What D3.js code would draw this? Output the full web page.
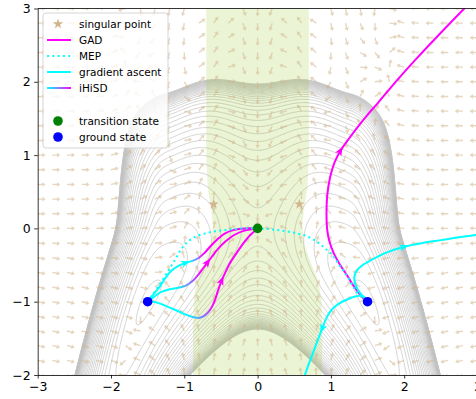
<!DOCTYPE html>
<html>
<head>
<meta charset="utf-8">
<script src="https://cdn.jsdelivr.net/npm/d3@7/dist/d3.min.js"></script>
<style>
  body { margin: 0; background: #fff; }
  svg { display: block; font-family: 'DejaVu Sans', sans-serif; }
</style>
</head>
<body>
<div id="chart"></div>
<script>
const xTicks = [-3, -2, -1, 0, 1, 2, 3];
const yTicks = [-2, -1, 0, 1, 2, 3];

const groundStates = [[-1.5, -1], [1.5, -1]];
const transitionState = [[0, 0]];
const singularPoints = [[-0.6, 0.33], [0.57, 0.33]];

// left edge of the index-1 band, top to bottom (the band is mirrored in x)
const bandEdge = [[-0.70, 3.2], [-0.70, 1.0], [-0.68, 0.55], [-0.64, 0.3], [-0.61, 0.05],
  [-0.63, -0.2], [-0.72, -0.45], [-0.82, -0.7], [-0.87, -0.95], [-0.88, -1.3], [-0.88, -2.2]];

const mepPath = [[-1.5, -1], [-1.38, -0.83], [-1.27, -0.66], [-1.19, -0.53], [-1.12, -0.42],
  [-1.06, -0.31], [-0.97, -0.2], [-0.86, -0.12], [-0.72, -0.07], [-0.58, -0.04], [-0.42, -0.02],
  [-0.2, 0], [0, 0], [0.16, -0.01], [0.32, -0.03], [0.5, -0.06], [0.68, -0.11], [0.82, -0.19],
  [0.93, -0.28], [1.04, -0.39], [1.12, -0.51], [1.2, -0.62], [1.28, -0.75], [1.36, -0.88], [1.5, -1]];

const gadPath = [[1.5, -1], [1.42, -0.93], [1.32, -0.8], [1.22, -0.64], [1.12, -0.49], [1.04, -0.34],
  [0.98, -0.18], [0.95, -0.02], [0.94, 0.2], [0.95, 0.45], [0.99, 0.7], [1.05, 0.9], [1.13, 1.06],
  [1.25, 1.23], [1.37, 1.39], [1.5, 1.55], [1.64, 1.71], [1.91, 2.03], [2.18, 2.33], [2.5, 2.67],
  [2.82, 3.0], [2.9, 3.08]];
const gadArrows = [12];

const ascentPaths = [
  [[1.5, -1], [1.43, -0.92], [1.37, -0.84], [1.33, -0.75], [1.32, -0.66], [1.35, -0.58], [1.42, -0.51],
    [1.52, -0.45], [1.73, -0.34], [2.0, -0.25], [2.25, -0.2], [2.5, -0.16], [2.75, -0.12], [3.05, -0.08]],
  [[1.5, -1], [1.43, -0.92], [1.33, -0.93], [1.22, -0.97], [1.12, -1.02], [1.02, -1.1], [0.95, -1.2],
    [0.88, -1.37], [0.8, -1.58], [0.74, -1.74], [0.68, -1.9], [0.63, -2.05]]
];
const ascentArrows = [9, 7];

const ihisdPaths = [
  [[-1.5, -1], [-1.42, -0.9], [-1.34, -0.8], [-1.26, -0.68], [-1.18, -0.58], [-1.08, -0.51],
    [-0.98, -0.47], [-0.88, -0.44], [-0.8, -0.4], [-0.72, -0.33], [-0.64, -0.24], [-0.55, -0.15],
    [-0.45, -0.07], [-0.32, -0.02], [-0.16, 0], [0, 0]],
  [[-1.5, -1], [-1.42, -0.94], [-1.32, -0.87], [-1.2, -0.83], [-1.08, -0.81], [-0.98, -0.78],
    [-0.88, -0.71], [-0.8, -0.62], [-0.74, -0.54], [-0.68, -0.46], [-0.62, -0.38], [-0.54, -0.28],
    [-0.44, -0.18], [-0.32, -0.09], [-0.18, -0.03], [0, 0]],
  [[-1.5, -1], [-1.42, -1.0], [-1.32, -1.03], [-1.2, -1.08], [-1.08, -1.13], [-0.97, -1.18],
    [-0.88, -1.21], [-0.79, -1.22], [-0.71, -1.18], [-0.64, -1.1], [-0.59, -1.0], [-0.55, -0.88],
    [-0.52, -0.79], [-0.49, -0.71], [-0.44, -0.6], [-0.38, -0.48], [-0.29, -0.34], [-0.2, -0.21],
    [-0.1, -0.09], [0, 0]]
];
const ihisdArrows = [6, 9, 13];
const ihisdArrowColors = ['#00ffff', '#ff00ff', '#ff00ff'];
// where each path turns from cyan to magenta
const ihisdFade = [
  [[-0.93, -0.46], [-0.74, -0.35]],
  [[-1.12, -0.81], [-0.78, -0.6]],
  [[-0.98, -1.18], [-0.6, -1.02]]
];

const legendLabels = ['singular point', 'GAD', 'MEP', 'gradient ascent', 'iHiSD', '', 'transition state', 'ground state'];

// energy landscape used for the contour lines and the GAD direction field
const Bup = 2.8, Bdown = 5.8, Vtop = 16;
const xMin = groundStates[1][0], yMin = groundStates[1][1];
const a2 = xMin * xMin, bend = yMin / a2;
const softplus = (z, d) => d * Math.log1p(Math.exp(z / d));
function energy(px, py) {
  const ax = Math.abs(px);
  const w = px * px - a2;
  const barrier = 0.3125 * w * w * (1 + 2.2 * Math.exp(-px * px / 0.64));
  const u = py - bend * px * px;
  const s = 1 / (1 + Math.exp(-u / 0.3));
  const stiff = Math.exp(-Math.pow(ax / 1.75, 6));
  const valley = stiff * (Bdown + (Bup - Bdown) * s) * u * u;
  const r = ax + 0.33 * 0.5 * (py - Math.sqrt(py * py + 0.04));
  const wall = 32.7 * Math.pow(softplus(r - 1.25, 0.04), 2);
  return barrier + valley + wall;
}

function gadDirection(px, py) {
  const e = 1e-3;
  const f0 = energy(px, py);
  const fxp = energy(px + e, py), fxm = energy(px - e, py);
  const fyp = energy(px, py + e), fym = energy(px, py - e);
  const gx = (fxp - fxm) / (2 * e), gy = (fyp - fym) / (2 * e);
  const hxx = (fxp - 2 * f0 + fxm) / (e * e);
  const hyy = (fyp - 2 * f0 + fym) / (e * e);
  const hxy = (energy(px + e, py + e) - energy(px + e, py - e) - energy(px - e, py + e) + energy(px - e, py - e)) / (4 * e * e);
  const lam = (hxx + hyy) / 2 - Math.sqrt(((hxx - hyy) / 2) ** 2 + hxy * hxy);
  let vx = hxy, vy = lam - hxx;
  if (Math.hypot(vx, vy) < 1e-9) { vx = lam - hyy; vy = hxy; }
  if (Math.hypot(vx, vy) < 1e-9) { vx = 1; vy = 0; }
  const n = Math.hypot(vx, vy);
  vx /= n; vy /= n;
  const dot = vx * gx + vy * gy;
  return [-gx + 2 * dot * vx, -gy + 2 * dot * vy];
}

const width = 476, height = 399;
const x = d3.scaleLinear().domain([-3, 3]).range([37.7, 477.5]);
const y = d3.scaleLinear().domain([-2, 3]).range([375, 8.5]);

const svg = d3.select('#chart').append('svg').attr('width', width).attr('height', height);
const defs = svg.append('defs');
defs.append('clipPath').attr('id', 'plot-clip')
  .append('rect').attr('x', x(-3)).attr('y', y(3)).attr('width', x(3) - x(-3)).attr('height', y(-2) - y(3));

const plot = svg.append('g').attr('clip-path', 'url(#plot-clip)');

// contour lines, packed closer together towards the outer rim
const gx0 = -3.3, gy0 = -2.3, step = 0.015;
const nx = Math.round(6.6 / step) + 1, ny = Math.round(5.6 / step) + 1;
const values = new Float64Array(nx * ny);
for (let j = 0; j < ny; j++) {
  for (let i = 0; i < nx; i++) values[j * nx + i] = energy(gx0 + i * step, gy0 + j * step);
}
const levels = [];
for (let v = 0.1; v < Vtop; v += 0.75 / (1 + 13 * Math.exp((v - Vtop) / 1.15))) levels.push(v);

const contourPath = d3.geoPath(d3.geoTransform({
  point(px, py) { this.stream.point(x(gx0 + (px - 0.5) * step), y(gy0 + (py - 0.5) * step)); }
}));
plot.append('g')
  .selectAll('path')
  .data(d3.contours().size([nx, ny]).thresholds(levels)(values))
  .join('path')
  .attr('d', contourPath)
  .attr('fill', 'none')
  .attr('stroke', '#c4c4c4')
  .attr('stroke-width', 0.75);

// index-1 band
const bandPoly = bandEdge.concat(bandEdge.slice().reverse().map(([px, py]) => [-px, py]));
plot.append('path')
  .attr('d', d3.line().x(d => x(d[0])).y(d => y(d[1]))(bandPoly) + 'Z')
  .attr('fill', 'yellowgreen')
  .attr('fill-opacity', 0.2);

// GAD direction field
const qx = d3.range(-3, 3.001, 0.2), qy = d3.range(-2, 3.001, 0.2);
const quiver = [];
qx.forEach(px => qy.forEach(py => quiver.push([px, py, gadDirection(px, py)])));
const L = 8, hl = 3.4, hw = 2.3, sw = 0.7;
const arrowShape = [[0, -sw], [L - hl, -sw], [L - hl, -hw], [L, 0], [L - hl, hw], [L - hl, sw], [0, sw]];
plot.append('g')
  .selectAll('polygon')
  .data(quiver)
  .join('polygon')
  .attr('points', arrowShape.map(p => p.join(',')).join(' '))
  .attr('transform', d => {
    const ang = Math.atan2(-d[2][1], d[2][0]) * 180 / Math.PI;
    return `translate(${x(d[0])},${y(d[1])}) rotate(${ang})`;
  })
  .attr('fill', '#d2b48c')
  .attr('fill-opacity', 0.55);

const line = d3.line().x(d => x(d[0])).y(d => y(d[1])).curve(d3.curveCatmullRom.alpha(0.5));

function pathArrow(g, pts, k, color) {
  const a = pts[k - 1], b = pts[k + 1];
  const ang = Math.atan2(y(b[1]) - y(a[1]), x(b[0]) - x(a[0])) * 180 / Math.PI;
  g.append('path')
    .attr('d', 'M4.5,0L-4.5,-3.6L-2.2,0L-4.5,3.6Z')
    .attr('transform', `translate(${x(pts[k][0])},${y(pts[k][1])}) rotate(${ang})`)
    .attr('fill', color);
}

const paths = plot.append('g').attr('fill', 'none');

paths.append('path').attr('d', line(gadPath)).attr('stroke', '#ff00ff').attr('stroke-width', 2);
gadArrows.forEach(k => pathArrow(paths, gadPath, k, '#ff00ff'));

ascentPaths.forEach((p, i) => {
  paths.append('path').attr('d', line(p)).attr('stroke', '#00ffff').attr('stroke-width', 2);
  pathArrow(paths, p, ascentArrows[i], '#00ffff');
});

ihisdPaths.forEach((p, i) => {
  const f = ihisdFade[i];
  const grad = defs.append('linearGradient').attr('id', 'ihisd-' + i)
    .attr('gradientUnits', 'userSpaceOnUse')
    .attr('x1', x(f[0][0])).attr('y1', y(f[0][1]))
    .attr('x2', x(f[1][0])).attr('y2', y(f[1][1]));
  grad.append('stop').attr('offset', 0).attr('stop-color', '#00ffff');
  grad.append('stop').attr('offset', 1).attr('stop-color', '#ff00ff');
  paths.append('path').attr('d', line(p)).attr('stroke', `url(#ihisd-${i})`).attr('stroke-width', 2);
  pathArrow(paths, p, ihisdArrows[i], ihisdArrowColors[i]);
});

paths.append('path').attr('d', line(mepPath))
  .attr('stroke', '#00ffff').attr('stroke-width', 2).attr('stroke-dasharray', '2,3.3');

// points
plot.append('g').selectAll('path').data(singularPoints).join('path')
  .attr('d', d3.symbol(d3.symbolStar, 34))
  .attr('transform', d => `translate(${x(d[0])},${y(d[1])})`)
  .attr('fill', '#d2b48c');
plot.append('g').selectAll('circle').data(transitionState).join('circle')
  .attr('cx', d => x(d[0])).attr('cy', d => y(d[1])).attr('r', 4.8).attr('fill', 'green');
plot.append('g').selectAll('circle').data(groundStates).join('circle')
  .attr('cx', d => x(d[0])).attr('cy', d => y(d[1])).attr('r', 4.8).attr('fill', 'blue');

// axes
const fmt = d3.format('d');
const xAxis = svg.append('g').attr('transform', `translate(0,${y(-2)})`)
  .call(d3.axisBottom(x).tickValues(xTicks).tickFormat(fmt).tickSize(3.5).tickSizeOuter(0).tickPadding(3.5));
const yAxis = svg.append('g').attr('transform', `translate(${x(-3)},0)`)
  .call(d3.axisLeft(y).tickValues(yTicks).tickFormat(fmt).tickSize(3.5).tickSizeOuter(0).tickPadding(3.5));
[xAxis, yAxis].forEach(a => {
  a.attr('font-family', 'DejaVu Sans, sans-serif').attr('font-size', 12.5);
  a.selectAll('text').attr('fill', '#000');
  a.selectAll('line, path').attr('stroke', '#000').attr('stroke-width', 0.8);
});
svg.append('line').attr('x1', x(-3)).attr('x2', x(3)).attr('y1', y(3)).attr('y2', y(3))
  .attr('stroke', '#000').attr('stroke-width', 0.8);

// legend
const lg = svg.append('g').attr('transform', 'translate(43,13)');
lg.append('rect').attr('width', 125).attr('height', 135).attr('rx', 3)
  .attr('fill', '#fff').attr('fill-opacity', 0.8).attr('stroke', '#ccc').attr('stroke-width', 0.8);
const lgGrad = defs.append('linearGradient').attr('id', 'lg-ihisd')
  .attr('gradientUnits', 'userSpaceOnUse').attr('x1', 4).attr('x2', 28).attr('y1', 0).attr('y2', 0);
lgGrad.append('stop').attr('offset', 0).attr('stop-color', '#00ffff');
lgGrad.append('stop').attr('offset', 1).attr('stop-color', '#ff00ff');

const rowY = [11, 27, 43, 59, 75, 91, 108, 124];
legendLabels.forEach((label, i) => {
  if (!label) return;
  lg.append('text').attr('x', 36).attr('y', rowY[i] + 4).attr('font-size', 10.5).attr('fill', '#000').text(label);
});
lg.append('path').attr('d', d3.symbol(d3.symbolStar, 34)).attr('transform', `translate(15,${rowY[0]})`).attr('fill', '#d2b48c');
lg.append('line').attr('x1', 4).attr('x2', 28).attr('y1', rowY[1]).attr('y2', rowY[1]).attr('stroke', '#ff00ff').attr('stroke-width', 2);
lg.append('line').attr('x1', 4).attr('x2', 28).attr('y1', rowY[2]).attr('y2', rowY[2]).attr('stroke', '#00ffff').attr('stroke-width', 2).attr('stroke-dasharray', '2,3.3');
lg.append('line').attr('x1', 4).attr('x2', 28).attr('y1', rowY[3]).attr('y2', rowY[3]).attr('stroke', '#00ffff').attr('stroke-width', 2);
lg.append('rect').attr('x', 4).attr('y', rowY[4] - 1).attr('width', 24).attr('height', 2).attr('fill', 'url(#lg-ihisd)');
lg.append('circle').attr('cx', 15).attr('cy', rowY[6]).attr('r', 4.8).attr('fill', 'green');
lg.append('circle').attr('cx', 15).attr('cy', rowY[7]).attr('r', 4.8).attr('fill', 'blue');
</script>
</body>
</html>
